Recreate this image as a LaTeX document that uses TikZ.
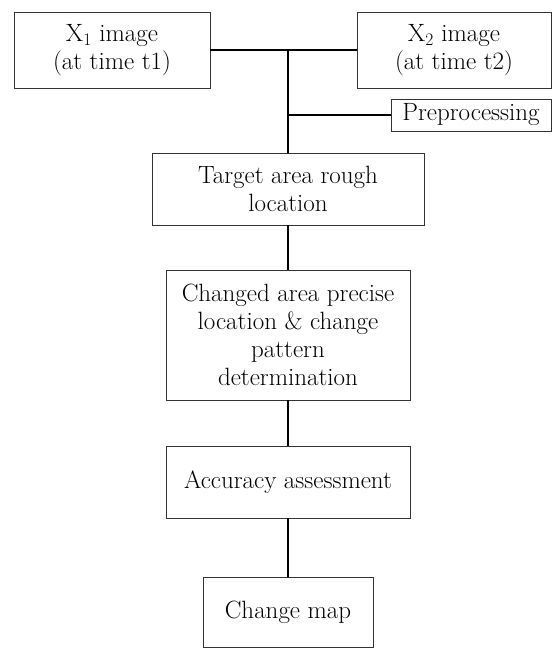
\documentclass[tikz,border=0pt]{standalone}
\usepackage{tikz}
\usetikzlibrary{positioning}

\begin{document}
\begin{tikzpicture}[
  x=1pt, y=-1pt,
  box/.style={rectangle,draw=black!80,line width=0.8pt,align=center,inner sep=0pt,
    font=\fontsize{25}{27.8}\selectfont},
  link/.style={draw,line width=1.4pt}
]
\useasboundingbox (0,0) rectangle (552,648);
\node[box,minimum width=196pt,minimum height=76pt] (x1) at (112,50) {X\textsubscript{1} image\\(at time t1)};
\node[box,minimum width=194pt,minimum height=76pt] (x2) at (454,50) {X\textsubscript{2} image\\(at time t2)};
\node[box,minimum width=160pt,minimum height=32pt] (pre) at (471,115) {Preprocessing};
\node[box,minimum width=272pt,minimum height=72pt] (target) at (288,189) {Target area rough\\location};
\node[box,minimum width=244pt,minimum height=130pt] (changed) at (288,335) {Changed area precise\\location \& change\\pattern\\determination};
\node[box,minimum width=244pt,minimum height=72pt] (acc) at (288,482) {Accuracy assessment};
\node[box,minimum width=170pt,minimum height=70pt] (map) at (288,612.5) {Change map};
\coordinate (j) at (288,50);
\coordinate (k) at (288,115);
\draw[link] (x1) -- (x2);
\draw[link] (j) -- (target);
\draw[link] (k) -- (pre);
\draw[link] (target) -- (changed);
\draw[link] (changed) -- (acc);
\draw[link] (acc) -- (map);
\end{tikzpicture}
\end{document}
